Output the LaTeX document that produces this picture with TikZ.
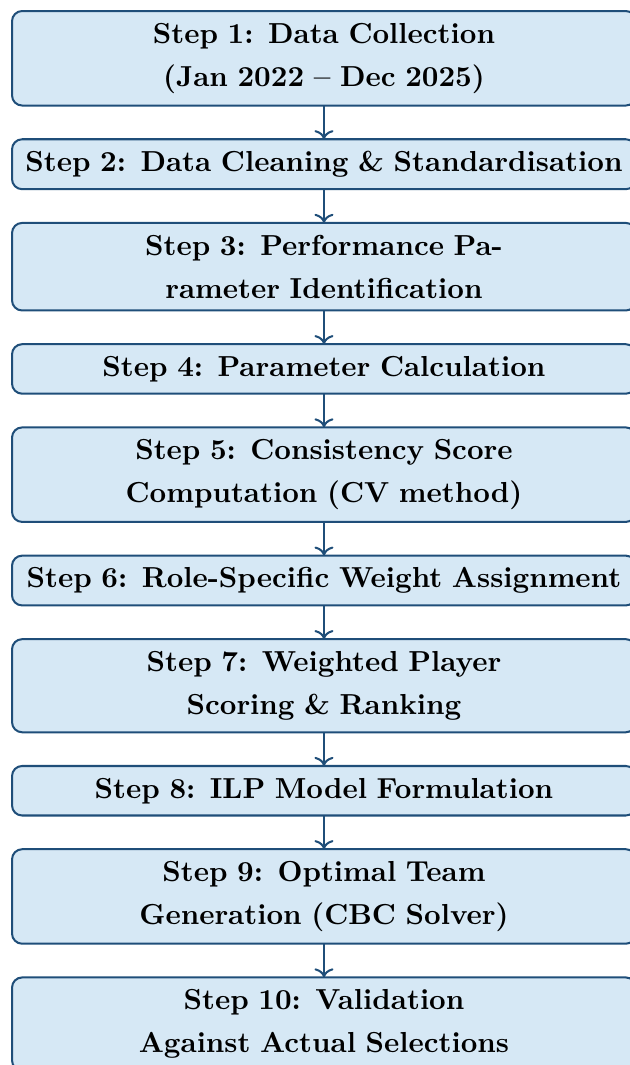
\documentclass[tikz,border=0pt]{standalone}
\usepackage{tikz}
\usetikzlibrary{arrows.meta, positioning}
\definecolor{stepBlue}{HTML}{1F4E79}
\definecolor{stepFill}{HTML}{D6E8F5}

\begin{document}
\begin{tikzpicture}[>=To,
    node distance=11.65pt,
    stepbox/.style={draw=stepBlue, fill=stepFill, line width=0.7pt, rounded corners=3.5pt,
        text width=211.6pt, inner xsep=2pt, inner ysep=4.1pt, outer sep=0pt, align=center,
        font=\bfseries\fontsize{10}{15}\selectfont},
    flow/.style={->, line width=0.7pt, stepBlue}]
    \useasboundingbox (0,0) rectangle (7.643,-12.935);
    \coordinate (TL) at (0.146,-0.134);

    \node[stepbox, anchor=north west] (s1) at (TL) {Step 1: Data Collection\\(Jan 2022 -- Dec 2025)};
    \node[stepbox, below=of s1] (s2) {Step 2: Data Cleaning \& Standardisation};
    \node[stepbox, below=of s2] (s3) {Step 3: Performance Pa-\\rameter Identification};
    \node[stepbox, below=of s3] (s4) {Step 4: Parameter Calculation};
    \node[stepbox, below=of s4] (s5) {Step 5: Consistency Score\\Computation (CV method)};
    \node[stepbox, below=of s5] (s6) {Step 6: Role-Specific Weight Assignment};
    \node[stepbox, below=of s6] (s7) {Step 7: Weighted Player\\Scoring \& Ranking};
    \node[stepbox, below=of s7] (s8) {Step 8: ILP Model Formulation};
    \node[stepbox, below=of s8] (s9) {Step 9: Optimal Team\\Generation (CBC Solver)};
    \node[stepbox, below=of s9] (s10) {Step 10: Validation\\Against Actual Selections};

    \foreach \a/\b in {s1/s2, s2/s3, s3/s4, s4/s5, s5/s6, s6/s7, s7/s8, s8/s9, s9/s10}
        \draw[flow] (\a) -- (\b);
\end{tikzpicture}
\end{document}
